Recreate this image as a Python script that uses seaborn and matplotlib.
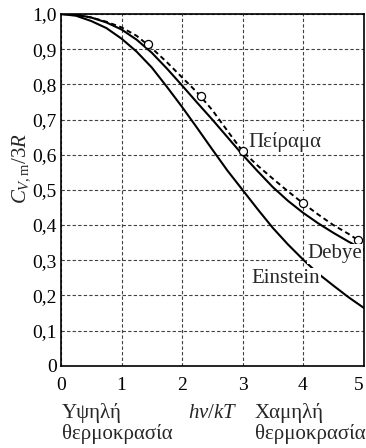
"""Heat capacity of a solid: Einstein and Debye models vs experiment."""

import matplotlib
matplotlib.use("Agg")
import matplotlib.pyplot as plt
import pandas as pd
import seaborn as sns

# values
x_grid = [0.0, 0.25, 0.5, 0.75, 1.0, 1.25, 1.5, 1.75, 2.0, 2.25, 2.5,
          2.75, 3.0, 3.25, 3.5, 3.75, 4.0, 4.25, 4.5, 4.75, 5.0]
einstein = [1.0, 0.995, 0.98, 0.96, 0.93, 0.893, 0.848, 0.793, 0.736, 0.676, 0.615,
            0.555, 0.50, 0.445, 0.392, 0.345, 0.302, 0.262, 0.228, 0.195, 0.165]
debye = [1.0, 0.998, 0.99, 0.976, 0.956, 0.927, 0.89, 0.845, 0.797, 0.748, 0.70,
         0.65, 0.60, 0.553, 0.508, 0.469, 0.435, 0.405, 0.378, 0.353, 0.33]

exp_x = [0.0, 0.25, 0.5, 0.75, 1.0, 1.25, 1.5, 1.75, 2.0, 2.25, 2.5,
         2.75, 3.0, 3.25, 3.5, 3.75, 4.0, 4.25, 4.5, 4.75, 4.91]
exp_curve = [1.0, 0.998, 0.99, 0.978, 0.962, 0.938, 0.903, 0.863, 0.82, 0.777, 0.727,
             0.668, 0.61, 0.569, 0.532, 0.496, 0.462, 0.43, 0.40, 0.375, 0.357]

points_x = [1.43, 2.31, 3.0, 4.0, 4.91]
points_y = [0.915, 0.767, 0.61, 0.462, 0.357]

y_ticks = [0.0, 0.1, 0.2, 0.3, 0.4, 0.5, 0.6, 0.7, 0.8, 0.9, 1.0]
y_labels = ["0", "0,1", "0,2", "0,3", "0,4", "0,5", "0,6", "0,7", "0,8", "0,9", "1,0"]
x_ticks = [0, 1, 2, 3, 4, 5]

sns.set_style("white")
plt.rcParams["font.family"] = ["Liberation Serif", "DejaVu Serif"]
plt.rcParams["mathtext.fontset"] = "custom"
plt.rcParams["mathtext.rm"] = "Liberation Serif"
plt.rcParams["mathtext.it"] = "Liberation Serif:italic"

models = pd.DataFrame({"x": x_grid, "Einstein": einstein, "Debye": debye})
exp = pd.DataFrame({"x": exp_x, "y": exp_curve})
pts = pd.DataFrame({"x": points_x, "y": points_y})

fig = plt.figure(figsize=(3.66, 4.48), dpi=100)
ax = fig.add_axes([61 / 366, 82.3 / 448, 302.5 / 366, 351.7 / 448])

for name in ["Einstein", "Debye"]:
    sns.lineplot(data=models, x="x", y=name, ax=ax, color="black", lw=1.5, zorder=3)
sns.lineplot(data=exp, x="x", y="y", ax=ax, color="black", lw=1.4, zorder=3)
ax.lines[-1].set_dashes([2.6, 1.8])
sns.scatterplot(data=pts, x="x", y="y", ax=ax, s=34, facecolor="white",
                edgecolor="black", linewidth=0.9, zorder=4)

ax.set_xlim(0, 5)
ax.set_ylim(0, 1.0)
ax.set_xticks(x_ticks)
ax.set_yticks(y_ticks)
ax.set_yticklabels(y_labels)
ax.tick_params(length=0, labelsize=14, colors="black")
ax.tick_params(axis="x", pad=8)
ax.tick_params(axis="y", pad=3)
ax.get_xticklabels()[-1].set_ha("right")
ax.grid(True, color="0.25", lw=0.8, ls=(0, (3, 2)))
for s in ax.spines.values():
    s.set_color("black")
    s.set_linewidth(1.2)

ax.set_xlabel("")
ax.set_ylabel(r"$C_{V,\mathrm{m}}/3R$", fontsize=15)
ax.yaxis.set_label_coords(-0.096, 0.56)

box = dict(facecolor="white", edgecolor="none", pad=0.5)
ax.text(3.1, 0.636, "Πείραμα", fontsize=15, ha="left", va="center", bbox=box, zorder=5)
ax.text(4.98, 0.318, "Debye", fontsize=15, ha="right", va="center", bbox=box, zorder=5)
ax.text(3.15, 0.248, "Einstein", fontsize=15, ha="left", va="center", bbox=box, zorder=5)

y1, y2 = 1 - 418 / 448, 1 - 439 / 448
fig.text(62 / 366, y1, "Υψηλή", fontsize=15, ha="left", va="baseline")
fig.text(62 / 366, y2, "θερμοκρασία", fontsize=15, ha="left", va="baseline")
fig.text(188 / 366, y1, r"$h\nu/kT$", fontsize=15, ha="left", va="baseline")
fig.text(255 / 366, y1, "Χαμηλή", fontsize=15, ha="left", va="baseline")
fig.text(255 / 366, y2, "θερμοκρασία", fontsize=15, ha="left", va="baseline")

fig.savefig("out.png", dpi=100)
